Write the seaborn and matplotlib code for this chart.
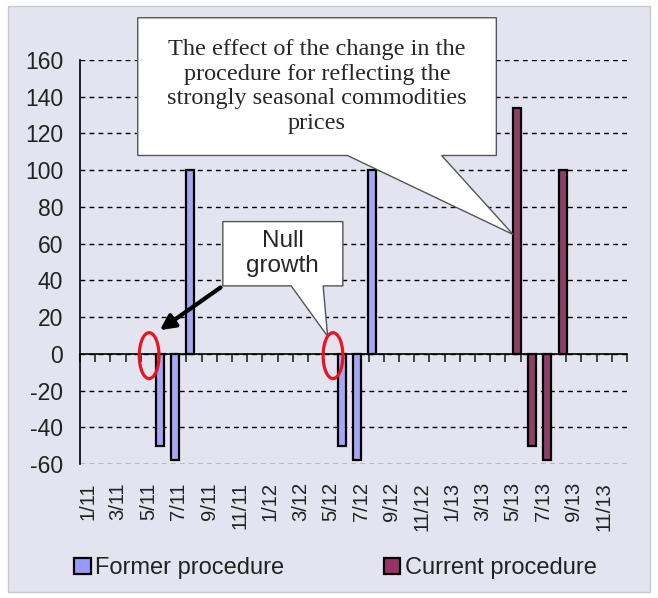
import numpy as np
import pandas as pd
import matplotlib
matplotlib.use("Agg")
import matplotlib.pyplot as plt
from matplotlib.patches import Polygon, Ellipse, Rectangle, Patch
import seaborn as sns

# data
months = [f"{m}/{y}" for y in (11, 12, 13) for m in range(1, 13)]
former_months = ["6/11", "7/11", "8/11", "6/12", "7/12", "8/12"]
former_values = [-50, -58, 100, -50, -58, 100]
current_months = ["5/13", "6/13", "7/13", "8/13"]
current_values = [134, -50, -58, 100]
series = ["Former procedure", "Current procedure"]
colors = ["#9999ff", "#993366"]

df = pd.concat([
    pd.DataFrame({"month": former_months, "value": former_values, "series": series[0]}),
    pd.DataFrame({"month": current_months, "value": current_values, "series": series[1]}),
])

sns.set_style("white")
plt.rcParams["font.family"] = ["Liberation Sans", "DejaVu Sans"]
plt.rcParams["axes.unicode_minus"] = False

fig = plt.figure(figsize=(6.58, 5.98), dpi=100)
fig.patch.set_facecolor("white")
fig.patches.append(Rectangle((0.012, 0.01), 0.976, 0.98, transform=fig.transFigure,
                             facecolor="#e4e4f0", edgecolor="#c8c8d0", lw=1, zorder=-10))

ax = fig.add_axes([80 / 658, 1 - 464 / 598, 547 / 658, 404 / 598])
ax.set_facecolor("none")

sns.barplot(data=df, x="month", y="value", hue="series", order=months,
            hue_order=series, palette=colors, width=1.05, dodge=True,
            edgecolor="black", linewidth=1.6, errorbar=None, legend=False, ax=ax)

ax.set_xlim(-0.5, len(months) - 0.5)
ax.set_ylim(-60, 160)
ax.set_yticks(range(-60, 161, 20))
ax.yaxis.grid(True, linestyle=(0, (3.5, 3)), color="black", lw=1)
ax.xaxis.grid(False)
ax.set_axisbelow(True)
ax.set_xlabel("")
ax.set_ylabel("")
for s in ["top", "right", "bottom"]:
    ax.spines[s].set_visible(False)
ax.spines["left"].set_color("black")
ax.spines["left"].set_linewidth(1.2)
ax.tick_params(axis="y", direction="out", length=6, width=1.2, pad=6,
               labelsize=16.5, labelcolor="#222222")

ax.set_xticks(range(0, len(months), 2), months[::2])
ax.tick_params(axis="x", length=0, pad=13, labelsize=14.5, labelrotation=90,
               labelcolor="#222222")

# zero line with month boundary ticks
sec = ax.secondary_xaxis(60 / 220)
sec.set_xticks(np.arange(-0.5, len(months), 1))
sec.tick_params(axis="x", direction="out", length=6, width=1.2, labelbottom=False)
sec.spines["bottom"].set_linewidth(1.2)
sec.spines["bottom"].set_color("black")

# big callout
big = Polygon([(3.3, 183), (26.9, 183), (26.9, 108), (23.3, 108), (28.0, 65),
               (17.1, 108), (3.3, 108)], closed=True, facecolor="white",
              edgecolor="#555555", lw=1, clip_on=False, zorder=5)
ax.add_patch(big)
ax.text(15.1, 145.5, "The effect of the change in the\nprocedure for reflecting the\n"
        "strongly seasonal commodities\nprices", ha="center", va="center",
        fontsize=17.5, family="Liberation Serif", linespacing=1.22, zorder=6)

# null growth callout
null = Polygon([(8.9, 72), (16.8, 72), (16.8, 37), (15.5, 37), (15.8, 9.5),
                (13.4, 37), (8.9, 37)], closed=True, facecolor="white",
               edgecolor="#555555", lw=1, clip_on=False, zorder=5)
ax.add_patch(null)
ax.text(12.85, 54.5, "Null\ngrowth", ha="center", va="center", fontsize=17.5,
        linespacing=1.15, zorder=6)

ax.annotate("", xy=(4.6, 12), xytext=(8.9, 37),
            arrowprops=dict(arrowstyle="-|>,head_length=0.9,head_width=0.45",
                            color="black", lw=3), zorder=6)

for cx in (4.05, 16.15):
    ax.add_patch(Ellipse((cx, -1), 1.3, 25, fill=False, edgecolor="#e8141e",
                         lw=2.3, zorder=7))

handles = [Patch(facecolor=c, edgecolor="black", lw=1.6) for c in colors]
fig.legend(handles, series, loc="center", bbox_to_anchor=(0.51, 0.05), ncol=2,
           frameon=False, fontsize=17, handlelength=0.7, handleheight=0.7,
           handletextpad=0.2, columnspacing=4.2, labelcolor="#222222")

fig.savefig("out.png", dpi=100)
